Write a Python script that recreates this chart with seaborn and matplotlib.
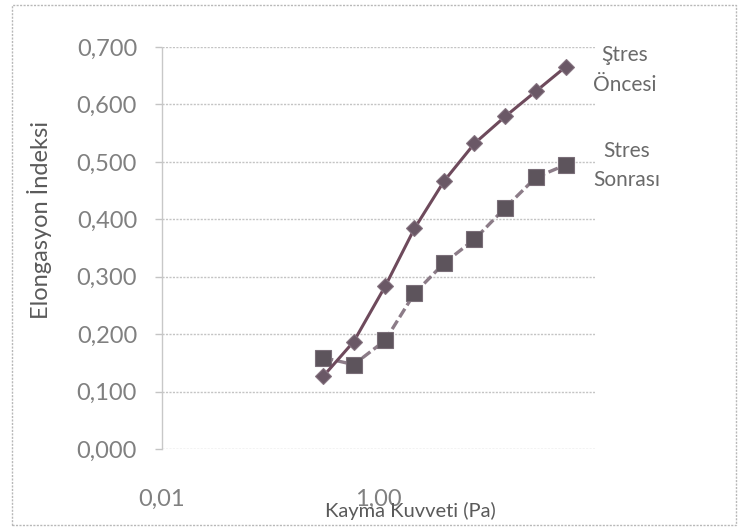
import matplotlib
matplotlib.use("Agg")
import matplotlib.pyplot as plt
from matplotlib.patches import Rectangle
from matplotlib.ticker import FixedLocator, FuncFormatter, NullLocator
import numpy as np
import pandas as pd
import seaborn as sns

# Shear stress (Pa) and elongation index before / after stress
kayma_kuvveti = [0.31, 0.59, 1.15, 2.15, 4.05, 7.7, 14.8, 28.5, 54.0]
stres_oncesi = [0.127, 0.187, 0.283, 0.384, 0.467, 0.532, 0.579, 0.623, 0.666]
stres_sonrasi = [0.159, 0.147, 0.189, 0.271, 0.324, 0.365, 0.420, 0.473, 0.495]

y_ticks = [0.0, 0.1, 0.2, 0.3, 0.4, 0.5, 0.6, 0.7]
x_ticks = [0.01, 1.0]

sns.set_theme(style="white")
plt.rcParams["font.family"] = ["Lato", "DejaVu Sans"]

df_on = pd.DataFrame({"x": kayma_kuvveti, "y": stres_oncesi})
df_son = pd.DataFrame({"x": kayma_kuvveti, "y": stres_sonrasi})

fig = plt.figure(figsize=(7.38, 5.27), dpi=100)
ax = fig.add_axes([162 / 738, 1 - 449 / 527, (595 - 162) / 738, (449 - 47) / 527])

sns.lineplot(data=df_son, x="x", y="y", ax=ax, color="#8c7c88", lw=2.4,
             linestyle=(0, (3, 1.2)), marker="s", markersize=12,
             markerfacecolor="#5d545c", markeredgecolor="#7a6e78",
             markeredgewidth=0.8, zorder=3)
sns.lineplot(data=df_on, x="x", y="y", ax=ax, color="#6e4a5c", lw=2.2,
             marker="D", markersize=8, markerfacecolor="#6a5866",
             markeredgecolor="#857380", markeredgewidth=0.8, zorder=4)

ax.set_xscale("log")
ax.set_xlim(0.01, 100)
ax.set_ylim(0, 0.7)
ax.xaxis.set_major_locator(FixedLocator(x_ticks))
ax.xaxis.set_minor_locator(NullLocator())
ax.xaxis.set_major_formatter(FuncFormatter(lambda v, p: f"{v:.2f}".replace(".", ",")))
ax.yaxis.set_major_locator(FixedLocator(y_ticks))
ax.yaxis.set_major_formatter(FuncFormatter(lambda v, p: f"{v:.3f}".replace(".", ",")))

ax.grid(axis="y", color="#c4c4c4", linestyle=(0, (1.5, 1)), linewidth=1.0)
ax.grid(axis="x", visible=False)
for side in ["top", "right", "bottom"]:
    ax.spines[side].set_visible(False)
ax.spines["left"].set_color("#c8c8c8")
ax.spines["left"].set_linestyle((0, (1.5, 1)))
ax.spines["left"].set_linewidth(1.0)

ax.tick_params(axis="y", which="major", length=5, width=1, color="#c4c4c4",
               direction="out", left=True, pad=13, labelsize=17, labelcolor="#808080")
ax.tick_params(axis="x", which="major", length=0, pad=29, labelsize=17,
               labelcolor="#808080")
ax.set_xlabel("")
ax.set_ylabel("")

fig.text(410 / 738, 1 - 511 / 527, "Kayma Kuvveti (Pa)", ha="center", va="center",
         fontsize=14.5, color="#5a5a5a")
fig.text(40 / 738, 1 - 220 / 527, "Elongasyon İndeksi", ha="center", va="center",
         rotation=90, fontsize=17, color="#5a5a5a")

for txt, (px, py) in [("Ştres", (625, 55)), ("Öncesi", (625, 85)),
                      ("Stres", (627, 151)), ("Sonrası", (627, 180))]:
    fig.text(px / 738, 1 - py / 527, txt, ha="center", va="center",
             fontsize=15, color="#6a6a6a")

# dotted chart-area border
fig.patches.append(Rectangle((12 / 738, 2 / 527), (736 - 12) / 738, (522 - 2) / 527,
                             transform=fig.transFigure, fill=False,
                             edgecolor="#b8b8b8", linewidth=1.0,
                             linestyle=(0, (1.5, 1))))

fig.savefig("out.png", dpi=100, facecolor="white")
